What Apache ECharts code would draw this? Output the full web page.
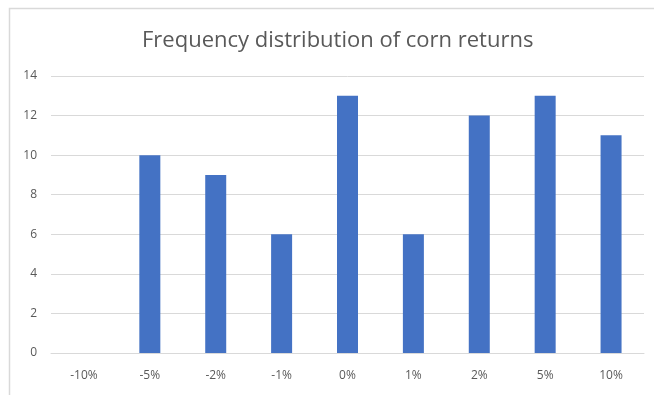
<!DOCTYPE html>
<html>
<head>
<meta charset="utf-8">
<script src="https://cdn.jsdelivr.net/npm/echarts@6/dist/echarts.min.js"></script>
<style>
html,body{margin:0;padding:0;background:#fff;}
#chart{width:654px;height:395px;}
</style>
</head>
<body>
<div id="chart"></div>
<script>
var categories = ['-10%', '-5%', '-2%', '-1%', '0%', '1%', '2%', '5%', '10%'];
var frequencies = [0, 10, 9, 6, 13, 6, 12, 13, 11];
var titleText = 'Frequency distribution of corn returns';

var chart = echarts.init(document.getElementById('chart'), null, {renderer: 'canvas'});
chart.setOption({
  animation: false,
  backgroundColor: '#ffffff',
  title: {
    text: titleText,
    left: 137,
    top: 25,
    textStyle: {fontFamily: 'Open Sans', fontSize: 22, fontWeight: 'normal', color: '#595959'}
  },
  graphic: [{
    type: 'rect',
    shape: {x: 9.5, y: 8.5, width: 700, height: 500},
    style: {fill: 'none', stroke: '#d9d9d9', lineWidth: 1.5},
    silent: true
  }],
  grid: {left: 51, right: 10, top: 76, bottom: 42, containLabel: false},
  xAxis: {
    type: 'category',
    data: categories,
    axisLine: {show: true, lineStyle: {color: '#d9d9d9', width: 1}},
    axisTick: {show: false},
    axisLabel: {margin: 17, fontFamily: 'Open Sans', fontSize: 12, color: '#595959'}
  },
  yAxis: {
    type: 'value',
    min: 0, max: 14, interval: 2,
    axisLine: {show: false},
    axisTick: {show: false},
    splitLine: {lineStyle: {color: '#d9d9d9', width: 1}},
    axisLabel: {margin: 14, fontFamily: 'Open Sans', fontSize: 12, color: '#595959'}
  },
  series: [{
    type: 'bar',
    data: frequencies,
    barWidth: 21,
    itemStyle: {color: '#4472c4'}
  }]
});
</script>
</body>
</html>
